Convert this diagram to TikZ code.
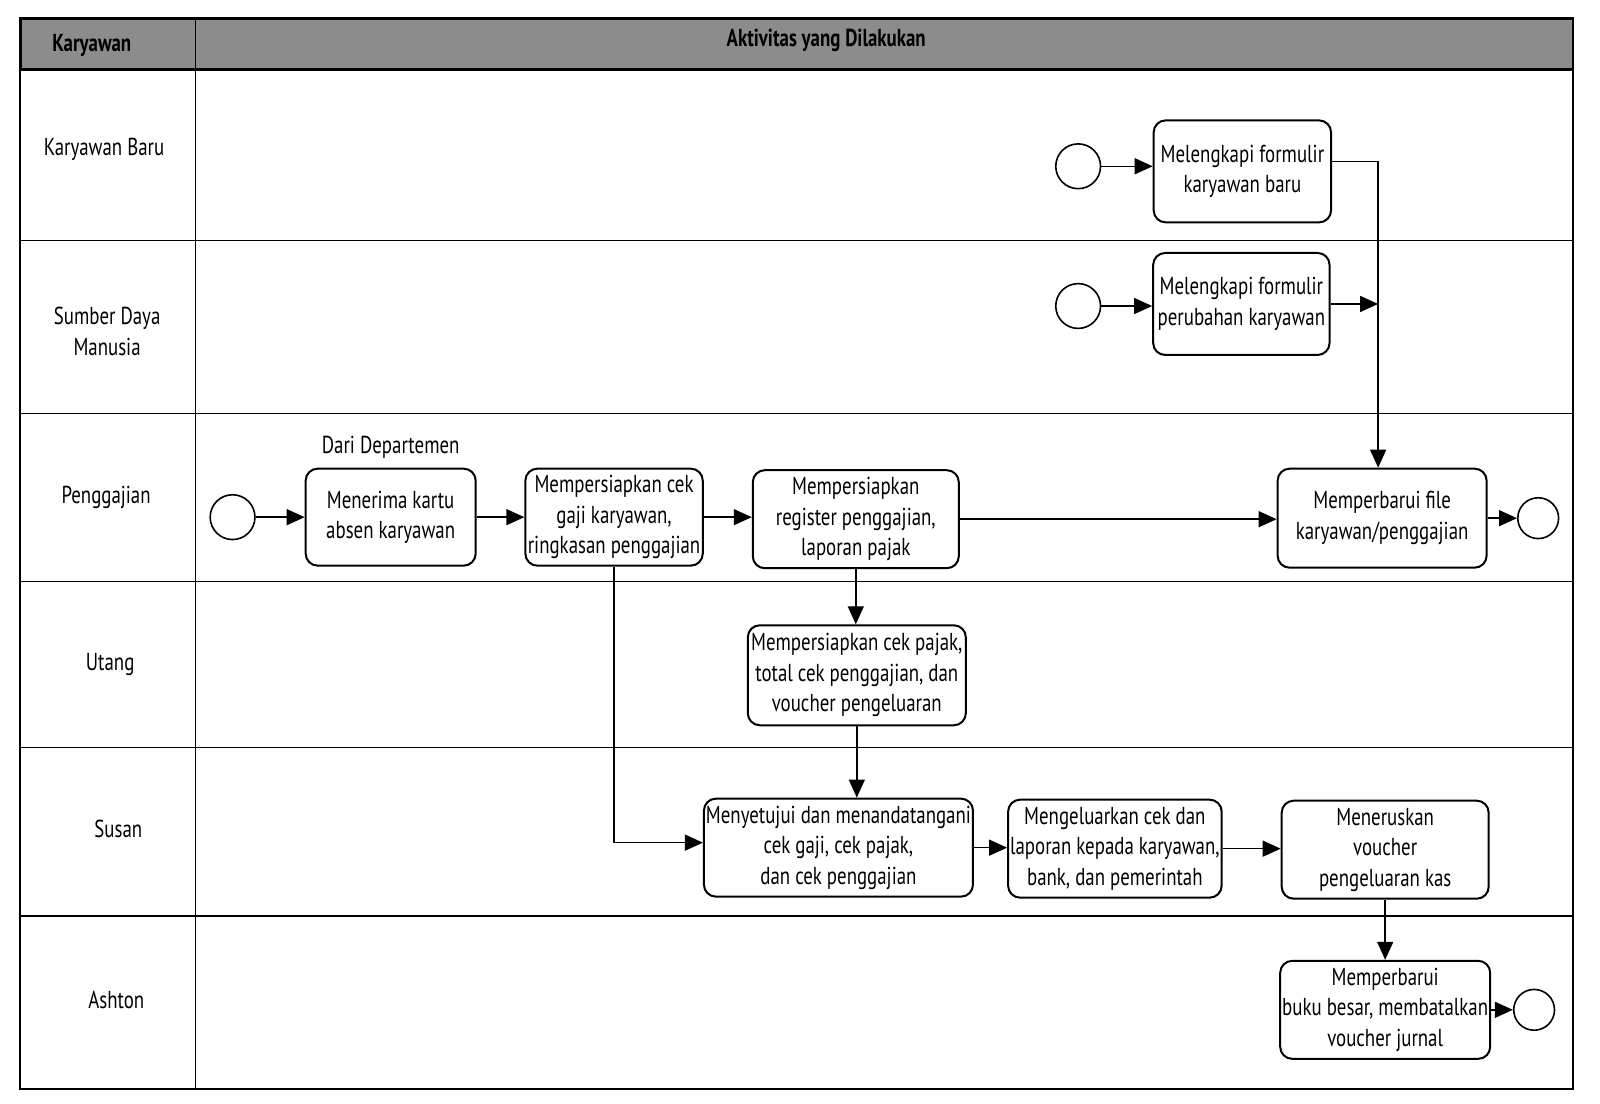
\documentclass[tikz,border=0pt]{standalone}
\usepackage{fontspec}
\setmainfont{PT Sans}[FakeStretch=0.77]
\usetikzlibrary{shapes,arrows.meta}
\usetikzlibrary{positioning,calc}

\begin{document}
\begin{tikzpicture}[x=0.51pt,y=-0.51pt,every text node part/.style={align=center}]
\tikzset{myFont/.style={font=\fontsize{12.25}{15.3}\selectfont}}
\tikzset{actBox/.style={draw,rounded corners=6pt,line width=1pt,myFont,inner sep=1pt}}
\tikzset{startDot/.style={draw,circle,line width=0.8pt,minimum size=22.4pt,inner sep=0pt}}
\tikzset{endDot/.style={draw,circle,line width=0.8pt,minimum size=20.4pt,inner sep=0pt}}
\tikzset{flowArrow/.style={-{Triangle[length=9pt,width=8pt]},line width=0.7pt}}
\tikzset{laneLine/.style={line width=0.6pt}}

\useasboundingbox (0,0) rectangle (1568.6,1081.4);

% frame, header and lanes
\draw[line width=1.2pt,fill=black!45] (20,18) rectangle (1542,68);
\draw[line width=1pt] (20,18) rectangle (1542,1068);
\draw[laneLine] (192,18) -- (192,1068);
\foreach \y in {236,405,570,733,898}
  \draw[laneLine] (20,\y) -- (1542,\y);

\node[myFont] (hKaryawan) at (90,45) {\textbf{Karyawan}};
\node[myFont] (hAktivitas) at (810,40) {\textbf{Aktivitas yang Dilakukan}};

\node[myFont] (lBaru) at (102,146) {Karyawan Baru};
\node[myFont] (lSdm) at (105,325) {Sumber Daya\\Manusia};
\node[myFont] (lGaji) at (104,488) {Penggajian};
\node[myFont] (lUtang) at (108,651) {Utang};
\node[myFont] (lSusan) at (116,813) {Susan};
\node[myFont] (lAshton) at (114,980) {Ashton};

% Karyawan Baru / SDM
\node[actBox,minimum width=88.7pt,minimum height=51pt] (formBaru) at (1218,168) {Melengkapi formulir\\karyawan baru};
\node[actBox,minimum width=88.2pt,minimum height=51pt] (formUbah) at (1217,298) {Melengkapi formulir\\perubahan karyawan};
\node[startDot] (startBaru) at (1057,163) {};
\node[startDot] (startUbah) at (1057,300) {};

% Penggajian
\node[startDot] (startGaji) at (228,507) {};
\node[actBox,minimum width=85pt,minimum height=48.5pt] (terimaKartu) at (383,507) {Menerima kartu\\absen karyawan};
\node[myFont,above=1pt of terimaKartu] (dariDept) {Dari Departemen};
\node[actBox,minimum width=88.7pt,minimum height=48.5pt] (siapCek) at (602,507) {Mempersiapkan cek\\gaji karyawan,\\ringkasan penggajian};
\node[actBox,minimum width=103pt,minimum height=49pt] (siapRegister) at (839,509) {Mempersiapkan\\register penggajian,\\laporan pajak};
\node[actBox,minimum width=104.5pt,minimum height=49.5pt] (baruiFile) at (1355,508) {Memperbarui file\\karyawan/penggajian};
\node[endDot] (endGaji) at (1508,508) {};

% Utang
\node[actBox,minimum width=109pt,minimum height=50pt] (siapPajak) at (840,662) {Mempersiapkan cek pajak,\\total cek penggajian, dan\\voucher pengeluaran};

% Susan
\node[actBox,minimum width=133.6pt,minimum height=49pt] (setujui) at (822,831) {Menyetujui dan menandatangani\\cek gaji, cek pajak,\\dan cek penggajian};
\node[actBox,minimum width=104pt,minimum height=49pt] (keluarkan) at (1093,832) {Mengeluarkan cek dan\\laporan kepada karyawan,\\bank, dan pemerintah};
\node[actBox,minimum width=103.5pt,minimum height=49pt] (teruskan) at (1358,833) {Meneruskan\\voucher\\pengeluaran kas};

% Ashton
\node[actBox,minimum width=103pt,minimum height=49pt] (baruiBuku) at (1358,990) {Memperbarui\\buku besar, membatalkan\\voucher jurnal};
\node[endDot] (endAshton) at (1504,990) {};

% connectors
\draw[flowArrow] (startBaru) -- (startBaru -| formBaru.west);
\draw[flowArrow] (startUbah) -- (startUbah -| formUbah.west);
\draw[flowArrow] ([yshift=5pt]formBaru.east) -| ([xshift=-2pt]baruiFile.north);
\coordinate (mergeUbah) at ([xshift=-2pt]baruiFile.north |- formUbah.east);
\draw[flowArrow] (formUbah.east) -- (mergeUbah);

\draw[flowArrow] (startGaji) -- (terimaKartu);
\draw[flowArrow] (terimaKartu) -- (siapCek);
\draw[flowArrow] (siapCek) -- (siapCek -| siapRegister.west);
\draw[flowArrow] (siapRegister) -- (siapRegister -| baruiFile.west);
\draw[flowArrow] (baruiFile) -- (endGaji);

\draw[flowArrow] (siapRegister.south) -- (siapRegister.south |- siapPajak.north);
\draw[flowArrow] (siapPajak.south) -- (siapPajak.south |- setujui.north);
\draw[flowArrow] (siapCek.south) |- ([yshift=2.5pt]setujui.west);

\draw[flowArrow] (setujui) -- (setujui -| keluarkan.west);
\draw[flowArrow] (keluarkan) -- (keluarkan -| teruskan.west);
\draw[flowArrow] (teruskan) -- (baruiBuku);
\draw[flowArrow] (baruiBuku) -- (endAshton);
\end{tikzpicture}
\end{document}
